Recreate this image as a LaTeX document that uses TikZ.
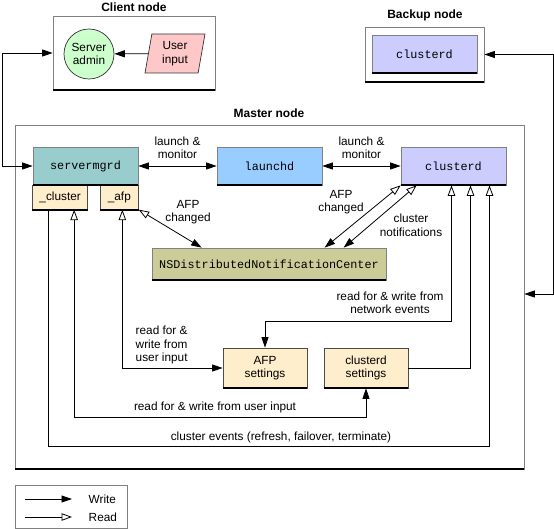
\documentclass[tikz,border=0pt]{standalone}
\usepackage{fontspec}
\setmainfont{Liberation Sans}
\setmonofont{Liberation Mono}
\usetikzlibrary{calc, shapes.geometric, arrows.meta}

\definecolor{admingreen}{HTML}{CCFFCC}
\definecolor{inputpink}{HTML}{FFC8C8}
\definecolor{mgrteal}{HTML}{99CCCC}
\definecolor{launchblue}{HTML}{99CCFF}
\definecolor{clusterlav}{HTML}{CCCCFF}
\definecolor{notifolive}{HTML}{CCCC99}
\definecolor{settingsbeige}{HTML}{FFEECC}
\definecolor{edgegray}{HTML}{808080}

\tikzset{
    wtip/.tip={Triangle[length=10.5pt, width=7pt]},
    rtip/.tip={Triangle[open, length=10.5pt, width=7.5pt]},
}

\begin{document}
\begin{tikzpicture}[x=1pt, y=-1pt, font=\fontsize{11.8}{13.5}\selectfont, line width=.8pt]
    \tikzstyle{hostbox} = [rectangle, draw=edgegray, line width=.7pt, inner sep=0pt]
    \tikzstyle{procbox} = [rectangle, draw=edgegray, line width=.7pt, inner sep=0pt,
        minimum width=105pt, minimum height=38pt, font=\ttfamily\fontsize{11.8}{14}\selectfont]
    \tikzstyle{subbox} = [rectangle, draw=black!70, line width=.7pt, inner sep=0pt,
        fill=settingsbeige, minimum height=24pt]
    \tikzstyle{setbox} = [rectangle, draw=black!70, line width=.7pt, inner sep=0pt,
        fill=settingsbeige, minimum width=84pt, minimum height=40pt, align=center]
    \tikzstyle{title} = [font=\bfseries\fontsize{12}{14}\selectfont]

    \useasboundingbox (0,0) rectangle (554,529);

    % Client node ----------------------------------------
    \node (clienttitle) at (134,7) [title] {Client node};
    \node (client) at (134,53) [hostbox, minimum width=162pt, minimum height=74pt] {};
    \node (admin) at (89,54) [circle, draw=black!80, line width=.7pt, fill=admingreen,
        minimum size=50pt, inner sep=0pt, align=center] {Server\\admin};
    \node (input) at (175,53.5) [trapezium, trapezium left angle=81, trapezium right angle=99,
        trapezium stretches=true, draw=black!80, line width=.7pt, fill=inputpink,
        minimum width=60pt, minimum height=39pt, inner sep=0pt, align=center] {User\\input};
    \draw [-wtip] (input) -- (admin);

    % Backup node ----------------------------------------
    \node (backuptitle) at (425,15) [title] {Backup node};
    \node (backup) at (424.5,54.5) [hostbox, minimum width=119pt, minimum height=55pt] {};
    \node (backupcd) at (424.5,54) [procbox, fill=clusterlav] {clusterd};

    % Master node ----------------------------------------
    \node (mastertitle) at (269,113) [title] {Master node};
    \node (master) at (269.5,297) [hostbox, minimum width=509pt, minimum height=344pt] {};

    \node (servermgrd) at (85.5,166) [procbox, fill=mgrteal] {servermgrd};
    \node (cluster) at ($(servermgrd.south west) + (27.5,12)$) [subbox, minimum width=55pt] {\_cluster};
    \node (afp) at ($(servermgrd.south east) + (-19,12)$) [subbox, minimum width=38pt] {\_afp};
    \node (launchd) at (269.5,166) [procbox, fill=launchblue] {launchd};
    \node (clusterd) at (453.5,166) [procbox, fill=clusterlav] {clusterd};

    \node (nsdnc) at (269,264) [procbox, fill=notifolive, minimum width=234pt, minimum height=32pt]
        {NSDistributedNotificationCenter};

    \node (afpset) at (265,368) [setbox] {AFP\\settings};
    \node (cdset) at (366,368) [setbox] {clusterd\\settings};

    % heavy bottom edges
    \foreach \n in {client, backup, backupcd, master, servermgrd, cluster, afp,
        launchd, clusterd, nsdnc, afpset, cdset}
        \draw [line width=2pt] (\n.south west) -- (\n.south east);

    % Between nodes --------------------------------------
    \draw [wtip-wtip] (client.west) -- ++(-50,0) |- (servermgrd.west);
    \draw [wtip-wtip] (backup.east) -- ++(69,0) |- ($(master.east) + (0,-3)$);

    % launch & monitor
    \draw [wtip-wtip] (servermgrd.east) -- (launchd.west);
    \node (launch1) at ($(servermgrd.east)!0.5!(launchd.west) + (0,-18)$) [align=center] {launch \&\\monitor};
    \draw [wtip-wtip] (launchd.east) -- (clusterd.west);
    \node (launch2) at ($(launchd.east)!0.5!(clusterd.west) + (0,-18)$) [align=center] {launch \&\\monitor};

    % Notifications
    \draw [rtip-wtip] (afp.south east) -- ($(nsdnc.north west) + (50,0)$);
    \node (afpchg1) at (188,212) [align=center] {AFP\\changed};
    \draw [rtip-wtip] (clusterd.south west) -- ($(nsdnc.north west) + (173,0)$);
    \draw [rtip-wtip] ($(clusterd.south west) + (16,0)$) -- ($(nsdnc.north west) + (192,0)$);
    \node (afpchg2) at (341,202) [align=center] {AFP\\changed};
    \node (clnotif) at (411,225.5) [align=center] {cluster\\notifications};

    % Settings
    \coordinate (cd1) at ($(clusterd.south) + (-2,0)$);
    \coordinate (cd2) at ($(clusterd.south) + (17,0)$);
    \coordinate (cd3) at ($(clusterd.south) + (36,0)$);

    \draw [wtip-rtip] (afpset.north) |- ($(cd1) + (0,136)$) -- (cd1);
    \node (netev) at (390,303) [align=center] {read for \& write from\\network events};
    \draw [-rtip] (cdset.east) -| (cd2);
    \draw [-rtip] ($(cluster.south) + (-12,0)$) |- ($(cd3) + (0,261)$) -- (cd3);
    \node (clev) at (281,437) {cluster events (refresh, failover, terminate)};

    \draw [rtip-wtip] ($(cluster.south) + (14,0)$) |- ($(cdset.south) + (0,29)$) -- (cdset.south);
    \node (usr1) at (215,407) {read for \& write from user input};
    \draw [rtip-wtip] ($(afp.south) + (3,0)$) |- (afpset.west);
    \node (usr2) at (132,345) [anchor=west, align=left] {read for \&\\write from\\user input};

    % Legend ---------------------------------------------
    \node (legend) at (71,506.5) [hostbox, minimum width=112pt, minimum height=43pt] {};
    \coordinate (wstart) at (25,499);
    \coordinate (wend) at (72,499);
    \coordinate (rstart) at (25,517);
    \coordinate (rend) at (72,517);
    \draw [-wtip] (wstart) -- (wend);
    \draw [-rtip] (rstart) -- (rend);
    \node (wlabel) at (85,499) [anchor=west] {Write};
    \node (rlabel) at (85,517) [anchor=west] {Read};
\end{tikzpicture}
\end{document}
